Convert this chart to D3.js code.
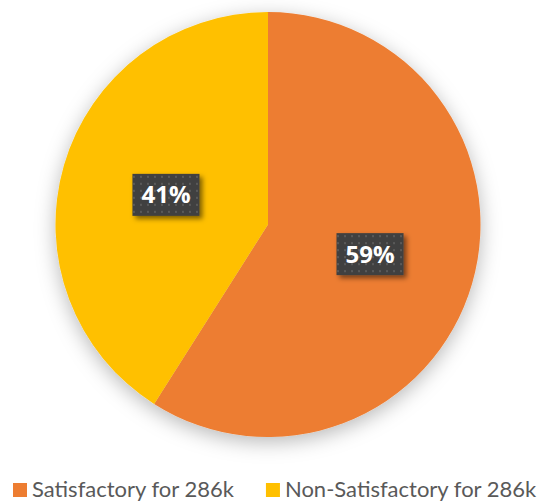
<!DOCTYPE html>
<html>
<head>
<meta charset="utf-8">
<script src="https://cdn.jsdelivr.net/npm/d3@7"></script>
<style>
  body { margin: 0; background: #fff; }
  svg { display: block; }
</style>
</head>
<body>
<div id="wrapper"></div>
<script>
const categories = ['Satisfactory for 286k', 'Non-Satisfactory for 286k']
const values = [59, 41]
const colors = ['#ED7D31', '#FFC000']

function drawPie() {
  const dimensions = { width: 543, height: 502, cx: 268, cy: 224.5, radius: 212.5 }

  const wrapper = d3.select('#wrapper')
    .append('svg')
    .attr('width', dimensions.width)
    .attr('height', dimensions.height)

  const defs = wrapper.append('defs')

  // soft shadow behind pie
  const pieShadow = defs.append('filter').attr('id', 'pie-shadow')
    .attr('x', '-20%').attr('y', '-20%').attr('width', '140%').attr('height', '140%')
  pieShadow.append('feDropShadow')
    .attr('dx', 0).attr('dy', 5).attr('stdDeviation', 10)
    .attr('flood-color', '#000').attr('flood-opacity', 0.28)

  const labelShadow = defs.append('filter').attr('id', 'label-shadow')
    .attr('x', '-30%').attr('y', '-30%').attr('width', '160%').attr('height', '160%')
  labelShadow.append('feDropShadow')
    .attr('dx', 3).attr('dy', 3).attr('stdDeviation', 2.5)
    .attr('flood-color', '#000').attr('flood-opacity', 0.5)

  // dotted label background
  const pattern = defs.append('pattern').attr('id', 'dots')
    .attr('patternUnits', 'userSpaceOnUse')
    .attr('width', 7).attr('height', 7)
  pattern.append('rect').attr('width', 7).attr('height', 7).attr('fill', '#404040')
  pattern.append('rect').attr('x', 2).attr('y', 2).attr('width', 2).attr('height', 2).attr('fill', '#5a5a5a')

  const pie = d3.pie().sort(null).value((d) => d)
  const arcs = pie(values)
  const arc = d3.arc().innerRadius(0).outerRadius(dimensions.radius)

  const bounds = wrapper.append('g')
    .attr('transform', `translate(${dimensions.cx},${dimensions.cy})`)

  bounds.append('g')
    .attr('filter', 'url(#pie-shadow)')
    .selectAll('path')
    .data(arcs)
    .join('path')
    .attr('d', arc)
    .attr('fill', (d, i) => colors[i])

  // data labels
  const total = d3.sum(values)
  const labels = bounds.selectAll('.label')
    .data(arcs)
    .join('g')
    .attr('class', 'label')
    .attr('transform', (d) => `translate(${arc.centroid(d)})`)

  const boxes = labels.append('rect')
    .attr('fill', 'url(#dots)')
    .attr('filter', 'url(#label-shadow)')

  const texts = labels.append('text')
    .attr('text-anchor', 'middle')
    .attr('dy', '0.36em')
    .attr('fill', '#fff')
    .style('font-family', '"Open Sans", sans-serif')
    .style('font-weight', 700)
    .style('font-size', '24px')
    .text((d) => `${Math.round(d.data / total * 100)}%`)

  texts.each(function () {
    const w = this.getComputedTextLength()
    d3.select(this.previousSibling)
      .attr('x', -w / 2 - 9)
      .attr('y', -21)
      .attr('width', w + 18)
      .attr('height', 42)
  })

  // legend
  const legend = wrapper.append('g').attr('class', 'legend')
  const items = legend.selectAll('g')
    .data(categories)
    .join('g')

  items.append('rect')
    .attr('y', 483)
    .attr('width', 14)
    .attr('height', 14)
    .attr('fill', (d, i) => colors[i])

  items.append('text')
    .attr('x', 19)
    .attr('y', 497)
    .attr('fill', '#595959')
    .style('font-family', 'Lato, sans-serif')
    .style('font-size', '22px')
    .text((d) => d)

  let xPos = 13
  items.each(function () {
    const w = d3.select(this).select('text').node().getComputedTextLength()
    d3.select(this).attr('transform', `translate(${xPos},0)`)
    xPos += 19 + w + 32
  })
}
drawPie()
</script>
</body>
</html>
